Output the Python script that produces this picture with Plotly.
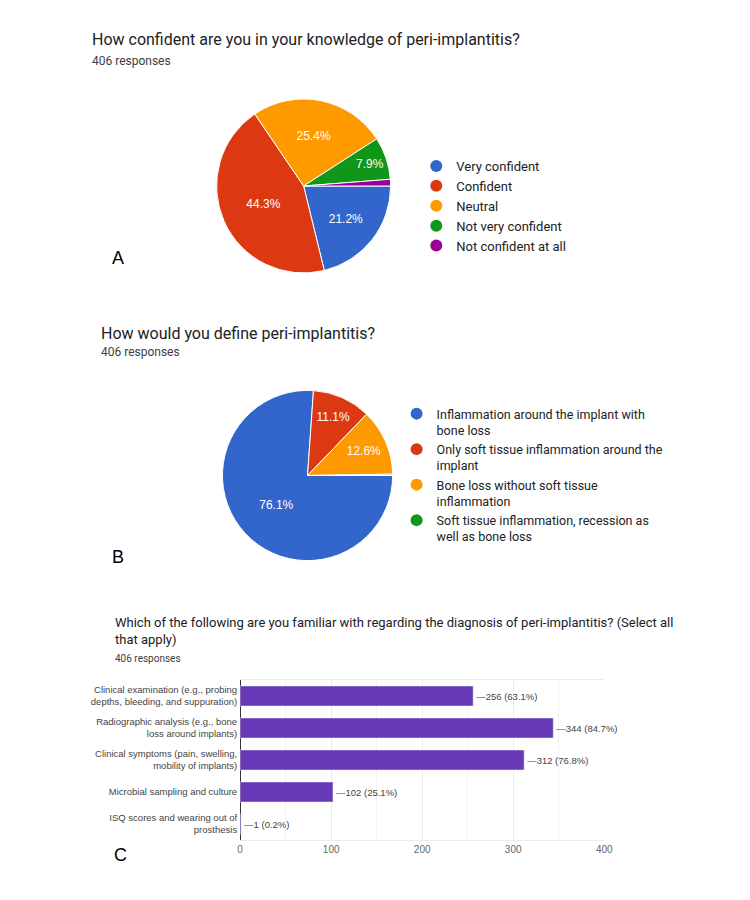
import plotly.graph_objects as go

TOTAL = 406

# Panel A
a_labels = ["Very confident", "Confident", "Neutral", "Not very confident", "Not confident at all"]
a_counts = [86, 180, 103, 32, 5]
a_colors = ["#3366cc", "#dc3912", "#ff9900", "#109618", "#990099"]

# Panel B
b_labels = ["Inflammation around the implant with<br>bone loss",
            "Only soft tissue inflammation around the<br>implant",
            "Bone loss without soft tissue<br>inflammation",
            "Soft tissue inflammation, recession as<br>well as bone loss"]
b_counts = [309, 45, 51, 1]
b_colors = ["#3366cc", "#dc3912", "#ff9900", "#109618"]

# Panel C
c_categories = ["Clinical examination (e.g., probing<br>depths, bleeding, and suppuration)",
                "Radiographic analysis (e.g., bone<br>loss around implants)",
                "Clinical symptoms (pain, swelling,<br>mobility of implants)",
                "Microbial sampling and culture",
                "ISQ scores and wearing out of<br>prosthesis"]
c_counts = [256, 344, 312, 102, 1]
c_tickvals = [0, 100, 200, 300, 400]

W, H = 750, 900
def px(x): return x / W
def py(y): return 1 - y / H

fig = go.Figure()

def tmpl(counts):
    tot = sum(counts)
    return ["%{percent:.1%}" if c / tot >= 0.03 else "" for c in counts]

fig.add_trace(go.Pie(
    values=a_counts, labels=a_labels, sort=False, direction="clockwise", rotation=90,
    marker=dict(colors=a_colors, line=dict(color="white", width=1)),
    texttemplate=tmpl(a_counts), textposition="inside", insidetextorientation="horizontal",
    textfont=dict(color="white", size=12, family="Liberation Sans"),
    showlegend=False, hoverinfo="label+percent",
    domain=dict(x=[px(217), px(394)], y=[py(273), py(99)])))

fig.add_trace(go.Pie(
    values=b_counts, labels=b_labels, sort=False, direction="clockwise", rotation=90,
    marker=dict(colors=b_colors, line=dict(color="white", width=1)),
    texttemplate=tmpl(b_counts), textposition="inside", insidetextorientation="horizontal",
    textfont=dict(color="white", size=12, family="Liberation Sans"),
    showlegend=False, hoverinfo="label+percent",
    domain=dict(x=[px(223), px(396)], y=[py(562), py(389)])))

bar_text = ["\u2014%d (%.1f%%)" % (c, round(c / TOTAL * 100, 1)) for c in c_counts]
fig.add_trace(go.Bar(
    x=c_counts, y=c_categories, orientation="h", marker_color="#673ab7",
    text=bar_text, textposition="outside", cliponaxis=False,
    textfont=dict(size=9.5, color="#444", family="Liberation Sans"),
    showlegend=False, hoverinfo="x+y"))

for lab, col in zip(a_labels, a_colors):
    fig.add_trace(go.Scatter(x=[None], y=[None], mode="markers", name=lab,
                             marker=dict(color=col, size=12), legend="legend", showlegend=True))
for lab, col in zip(b_labels, b_colors):
    fig.add_trace(go.Scatter(x=[None], y=[None], mode="markers", name=lab,
                             marker=dict(color=col, size=12), legend="legend2", showlegend=True))

ann = []
def text(x, y, s, size, color="#202124", family="Roboto", anchor="middle"):
    ann.append(dict(x=px(x), y=py(y), xref="paper", yref="paper", xanchor="left", yanchor=anchor,
                    text=s, showarrow=False, align="left", font=dict(size=size, color=color, family=family)))

text(88, 40, "How confident are you in your knowledge of peri-implantitis?", 16)
text(88, 61, "406 responses", 12, "#3c4043")
text(98, 333, "How would you define peri-implantitis?", 16)
text(98, 352, "406 responses", 12, "#3c4043")
text(112, 631, "Which of the following are you familiar with regarding the diagnosis of peri-implantitis? (Select all<br>that apply)", 13)
text(112, 658, "406 responses", 10, "#3c4043")
text(109, 258, "A", 18, "#000", "Liberation Sans")
text(109, 557, "B", 18, "#000", "Liberation Sans")
text(111, 855, "C", 18, "#000", "Liberation Sans")

fig.update_layout(
    width=W, height=H, margin=dict(l=0, r=0, t=0, b=0),
    paper_bgcolor="white", plot_bgcolor="white",
    annotations=ann,
    bargap=0.375,
    xaxis=dict(domain=[px(241), px(611)], range=[0, 400], tickvals=c_tickvals,
               showgrid=True, gridcolor="#ebebeb", zeroline=True, zerolinecolor="#333",
               zerolinewidth=1, showline=True, mirror=True, linecolor="#ebebeb",
               minor=dict(dtick=50, showgrid=True, gridcolor="#f2f2f2"),
               tickfont=dict(size=10, color="#666", family="Liberation Sans"), ticks=""),
    yaxis=dict(domain=[py(840), py(680)], autorange="reversed", ticks="",
               tickfont=dict(size=9.5, color="#444", family="Liberation Sans"),
               showgrid=False, ticklabelstandoff=2),
    legend=dict(x=px(420), y=py(151), xanchor="left", yanchor="top",
                font=dict(size=13, color="#222", family="Roboto"),
                bgcolor="rgba(0,0,0,0)", itemclick=False, itemdoubleclick=False),
    legend2=dict(x=px(400), y=py(399), xanchor="left", yanchor="top", valign="top",
                 font=dict(size=12.5, color="#222", family="Roboto"),
                 bgcolor="rgba(0,0,0,0)", itemclick=False, itemdoubleclick=False),
)

fig.write_html("out.html")
